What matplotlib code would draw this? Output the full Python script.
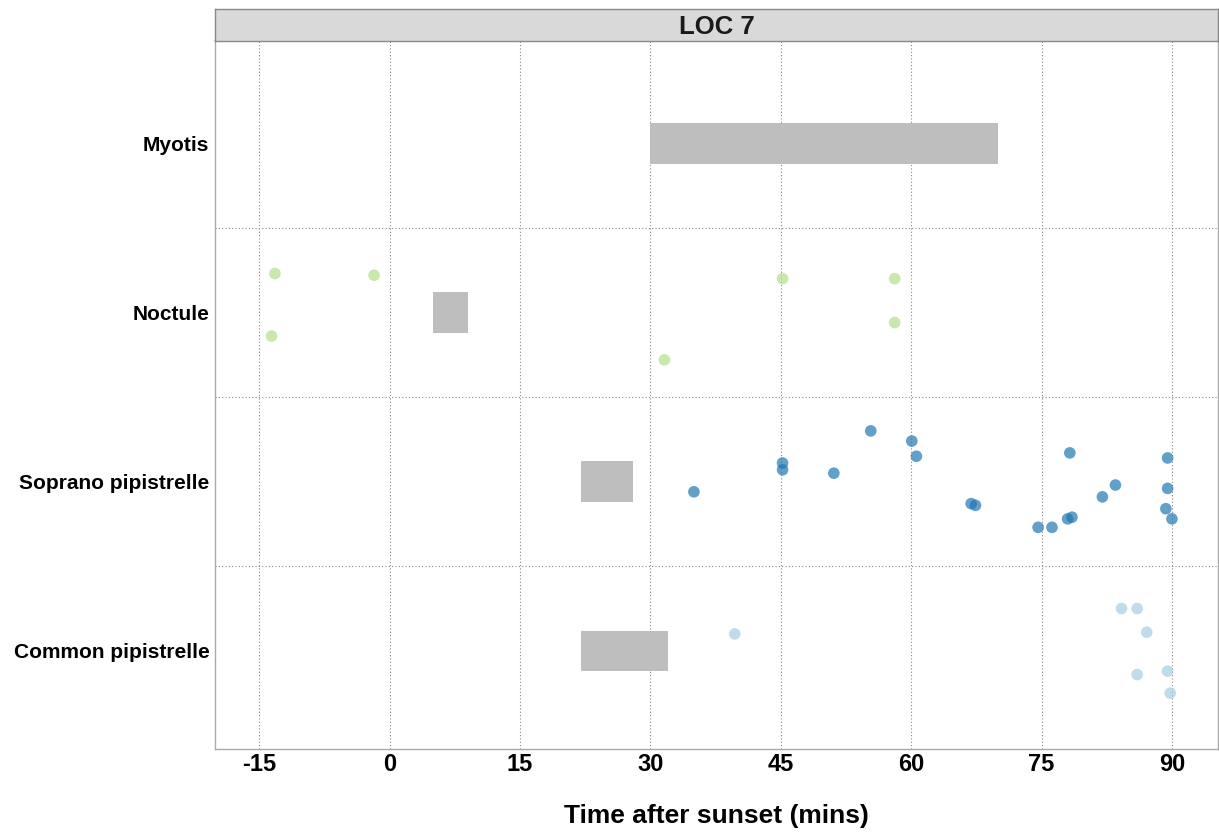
import numpy as np
import matplotlib
matplotlib.use("Agg")
import matplotlib.pyplot as plt
from matplotlib.patches import Rectangle

plt.rcParams['font.family'] = ['Liberation Sans', 'DejaVu Sans']

species = ["Common pipistrelle", "Soprano pipistrelle", "Noctule", "Myotis"]
species_colors = ["#a6cee3", "#1f78b4", "#b2df8a", "#b2df8a"]

# emergence windows (start, end) per species, minutes after sunset
win_start = [22, 22, 5, 30]
win_end = [32, 28, 9, 70]

# observed passes: time and vertical jitter
common_t = [39.7, 84.2, 86.0, 87.1, 86.0, 89.5, 89.8]
common_j = [0.10, 0.25, 0.25, 0.11, -0.14, -0.12, -0.25]

soprano_t = [55.35, 60.07, 60.6, 45.2, 45.2, 51.1, 35.0, 78.25, 89.5, 83.5,
             82.0, 89.5, 66.9, 67.4, 89.3, 90.0, 78.5, 78.0, 76.2, 74.6]
soprano_j = [0.30, 0.24, 0.15, 0.11, 0.07, 0.05, -0.06, 0.17, 0.14, -0.02,
             -0.09, -0.04, -0.13, -0.14, -0.16, -0.22, -0.21, -0.22, -0.27, -0.27]

noctule_t = [-13.2, -1.8, -13.6, 45.2, 58.1, 58.1, 31.6]
noctule_j = [0.23, 0.22, -0.14, 0.20, 0.20, -0.06, -0.28]

xticks = [-15, 0, 15, 30, 45, 60, 75, 90]

fig = plt.figure(figsize=(12.19, 8.34), dpi=100)
ax = fig.add_axes([215 / 1219, 1 - 749 / 834, 1003 / 1219, 709 / 834])

for i, (s, e) in enumerate(zip(win_start, win_end)):
    ax.add_patch(Rectangle((s, i - 0.12), e - s, 0.24, facecolor="#bebebe",
                           edgecolor="none", zorder=2))

obs = [(common_t, common_j, 0), (soprano_t, soprano_j, 1), (noctule_t, noctule_j, 2)]
for t, j, i in obs:
    ax.scatter(t, np.array(j) + i, s=70, color=species_colors[i], alpha=0.7,
               edgecolors="none", zorder=3)

ax.set_xlim(-20.1, 95.3)
ax.set_ylim(-0.58, 3.61)
ax.set_xticks(xticks)
ax.set_xticklabels([str(v) for v in xticks])
ax.set_yticks(range(len(species)))
ax.set_yticklabels(species)
ax.tick_params(axis="x", length=0, labelsize=17, pad=3)
ax.tick_params(axis="y", length=0, labelsize=15, pad=4)
for lab in ax.get_xticklabels() + ax.get_yticklabels():
    lab.set_fontweight("bold")

for v in xticks:
    ax.axvline(v, color="#888888", lw=0.8, ls=(0, (1, 2)), zorder=1)
for y in [0.5, 1.5, 2.5]:
    ax.axhline(y, color="#888888", lw=0.8, ls=(0, (1, 2)), zorder=1)

for sp in ax.spines.values():
    sp.set_color("#aaaaaa")
    sp.set_linewidth(1.0)

ax.set_xlabel("Time after sunset (mins)", fontsize=19, fontweight="bold", labelpad=20)

# facet strip
strip = fig.add_axes([215 / 1219, 1 - 41 / 834, 1003 / 1219, 32 / 834])
strip.set_facecolor("#d9d9d9")
strip.set_xticks([])
strip.set_yticks([])
for sp in strip.spines.values():
    sp.set_color("#888888")
    sp.set_linewidth(1.0)
strip.text(0.5, 0.45, "LOC 7", ha="center", va="center", fontsize=18.5,
           fontweight="bold", color="#1a1a1a", transform=strip.transAxes)

fig.savefig("out.png", dpi=100)
